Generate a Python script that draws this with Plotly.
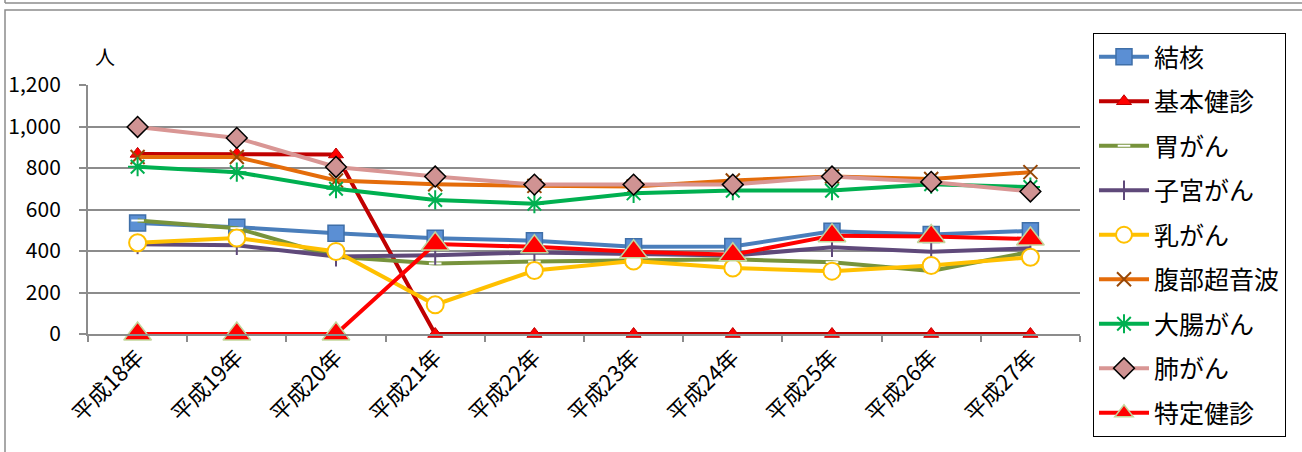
import plotly.graph_objects as go

categories = ["平成18年", "平成19年", "平成20年", "平成21年", "平成22年",
              "平成23年", "平成24年", "平成25年", "平成26年", "平成27年"]

kekkaku = [535, 515, 485, 462, 450, 420, 422, 495, 480, 497]
kihon_kenshin = [868, 868, 865, 0, 0, 0, 0, 0, 0, 0]
i_gan = [547, 510, 372, 340, 349, 354, 360, 346, 304, 396]
shikyu_gan = [432, 428, 373, 380, 393, 385, 378, 418, 396, 413]
nyu_gan = [440, 463, 398, 141, 306, 352, 318, 303, 330, 370]
fukubu_onpa = [853, 853, 740, 722, 714, 711, 740, 759, 747, 780]
daicho_gan = [806, 780, 700, 646, 628, 678, 691, 691, 722, 708]
hai_gan = [998, 945, 805, 759, 720, 720, 720, 759, 733, 687]
tokutei_kenshin = [0, 0, 0, 434, 420, 396, 382, 474, 470, 458]

y_ticks = [0, 200, 400, 600, 800, 1000, 1200]

series = [
    dict(name="結核", y=kekkaku, line=dict(color="#4A7EBB", width=4),
         marker=dict(symbol="square", size=16, color="#5B8FD4",
                     line=dict(color="#3F6FA8", width=1.5))),
    dict(name="基本健診", y=kihon_kenshin, line=dict(color="#C00000", width=4),
         marker=dict(symbol="triangle-up", size=13, color="#FF0000",
                     line=dict(color="#C00000", width=1))),
    dict(name="胃がん", y=i_gan, line=dict(color="#77933C", width=4),
         marker=dict(symbol="line-ew", size=9, color="#FFFFFF",
                     line=dict(color="#FFFFFF", width=2))),
    dict(name="子宮がん", y=shikyu_gan, line=dict(color="#5F497A", width=4),
         marker=dict(symbol="line-ns", size=14, color="#5F497A",
                     line=dict(color="#5F497A", width=2))),
    dict(name="乳がん", y=nyu_gan, line=dict(color="#FFC000", width=4),
         marker=dict(symbol="circle", size=17, color="#FFFFFF",
                     line=dict(color="#FFC000", width=2))),
    dict(name="腹部超音波", y=fukubu_onpa, line=dict(color="#E46C0A", width=4),
         marker=dict(symbol="x-thin", size=14, color="#984807",
                     line=dict(color="#984807", width=2))),
    dict(name="大腸がん", y=daicho_gan, line=dict(color="#00B050", width=4),
         marker=dict(symbol="asterisk", size=16, color="#00B050",
                     line=dict(color="#00B050", width=2))),
    dict(name="肺がん", y=hai_gan, line=dict(color="#D99694", width=4),
         marker=dict(symbol="diamond", size=16, color="#D09393",
                     line=dict(color="#000000", width=1.5))),
    dict(name="特定健診", y=tokutei_kenshin, line=dict(color="#FF0000", width=4),
         marker=dict(symbol="triangle-up", size=24, color="#FF0000",
                     line=dict(color="#C3D69B", width=1.5))),
]

fig = go.Figure()
for i, s in enumerate(series):
    fig.add_trace(go.Scatter(
        x=categories, y=s["y"], name=s["name"], mode="lines+markers",
        line=s["line"], marker=s["marker"], cliponaxis=False,
        legendgroup=f"g{i}",
    ))

W, H = 1302, 452
L, R, T, B = 88, 222, 85, 118
pw, ph = W - L - R, H - T - B


def px(x):
    return (x - L) / pw


def py(y):
    return (H - B - y) / ph


frame = "#8C8C8C"
shapes = [
    dict(type="rect", xref="paper", yref="paper",
         x0=px(5), x1=px(1320), y0=py(10), y1=py(470),
         line=dict(color=frame, width=1.5), fillcolor="rgba(0,0,0,0)"),
    dict(type="line", xref="paper", yref="paper",
         x0=px(5), x1=px(1320), y0=py(3), y1=py(3),
         line=dict(color=frame, width=1.5)),
    dict(type="line", xref="paper", yref="paper",
         x0=px(5), x1=px(5), y0=py(-5), y1=py(3),
         line=dict(color=frame, width=1.5)),
]

font_family = "Noto Sans CJK JP, Noto Sans, sans-serif"

fig.update_layout(
    width=W, height=H,
    margin=dict(l=L, r=R, t=T, b=B, autoexpand=False),
    paper_bgcolor="white", plot_bgcolor="white",
    font=dict(family=font_family, size=20, color="#000000"),
    showlegend=True,
    legend=dict(
        x=px(1093), y=py(33), xanchor="left", yanchor="top",
        bordercolor="#000000", borderwidth=1, bgcolor="white",
        font=dict(size=25), tracegroupgap=9, itemwidth=50,
        maxheight=440,
    ),
    shapes=shapes,
    annotations=[dict(text="人", xref="paper", yref="paper",
                      x=px(105), y=py(57), xanchor="center", yanchor="middle",
                      showarrow=False, font=dict(size=20))],
    xaxis=dict(
        type="category", range=[-0.5, 9.5], tickangle=-45,
        showline=True, linecolor="#8C8C8C", linewidth=2,
        ticks="outside", tickson="boundaries", ticklen=6,
        tickcolor="#8C8C8C", tickwidth=1.5, showgrid=False,
        tickfont=dict(size=22),
    ),
    yaxis=dict(
        range=[0, 1200], tickvals=y_ticks, tickformat=",",
        showline=True, linecolor="#8C8C8C", linewidth=2,
        ticks="outside", ticklen=7, tickcolor="#8C8C8C", tickwidth=1.5,
        showgrid=True, gridcolor="#8C8C8C", gridwidth=1.5,
        zeroline=False, ticklabelstandoff=14,
        tickfont=dict(size=21),
    ),
)

fig.write_html(
    "out.html",
    config={"displayModeBar": False},
    post_script="document.body.style.margin='0';document.body.style.padding='0';",
)
